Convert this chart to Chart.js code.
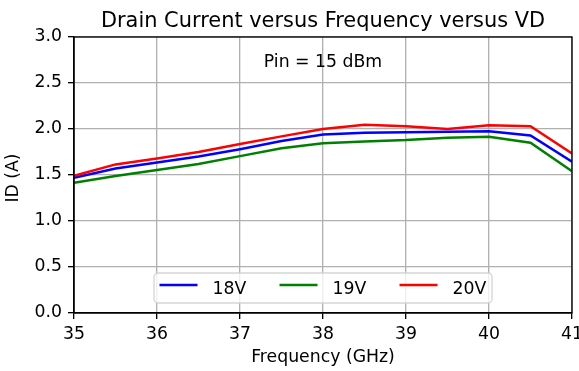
<!DOCTYPE html>
<html>
<head>
<meta charset="utf-8">
<script src="https://cdn.jsdelivr.net/npm/chart.js@4"></script>
<style>
  html, body { margin: 0; padding: 0; background: #fff; }
  #c { display: block; }
</style>
</head>
<body>
<canvas id="c" width="579" height="371"></canvas>
<script>
// ---- data ----
const frequencies = [35, 35.5, 36, 36.5, 37, 37.5, 38, 38.5, 39, 39.5, 40, 40.5, 41];
const seriesLabels = ['18V', '19V', '20V'];
const id18V = [1.47, 1.57, 1.635, 1.70, 1.78, 1.87, 1.94, 1.96, 1.965, 1.97, 1.975, 1.93, 1.645];
const id19V = [1.415, 1.49, 1.555, 1.62, 1.705, 1.79, 1.845, 1.865, 1.88, 1.905, 1.915, 1.85, 1.54];
const id20V = [1.49, 1.615, 1.68, 1.75, 1.837, 1.92, 2.0, 2.045, 2.03, 2.0, 2.04, 2.03, 1.735];
const xTicks = [35, 36, 37, 38, 39, 40, 41];
const yTicks = [0, 0.5, 1.0, 1.5, 2.0, 2.5, 3.0];
const titleText = 'Drain Current versus Frequency versus VD';
const annotationText = 'Pin = 15 dBm';
const xLabel = 'Frequency (GHz)';
const yLabel = 'ID (A)';

const colors = ['#0000ff', '#008000', '#ff0000'];
const FONT = "'DejaVu Sans', sans-serif";
const FS = 17.3;

function pts(arr) { return frequencies.map((f, i) => ({ x: f, y: arr[i] })); }

const allSeries = [id18V, id19V, id20V];
const datasets = allSeries.map((arr, i) => ({
  label: seriesLabels[i],
  data: pts(arr),
  borderColor: colors[i],
  backgroundColor: colors[i],
  borderWidth: 2.5,
  pointRadius: 0,
  tension: 0,
  fill: false,
  order: 2 - i
}));

const extras = {
  id: 'extras',
  afterDatasetsDraw(chart) {
    const { ctx, chartArea: a } = chart;
    ctx.save();
    ctx.strokeStyle = '#000';
    ctx.lineWidth = 1.33;
    ctx.strokeRect(a.left, a.top, a.right - a.left, a.bottom - a.top);
    ctx.restore();
  },
  afterDraw(chart) {
    const { ctx, chartArea: a } = chart;
    const cx = (a.left + a.right) / 2;
    ctx.save();
    // title
    ctx.fillStyle = '#000';
    ctx.font = `20.9px ${FONT}`;
    ctx.textAlign = 'center';
    ctx.textBaseline = 'alphabetic';
    ctx.fillText(titleText, cx, 27);
    // annotation
    ctx.font = `${FS}px ${FONT}`;
    ctx.fillText(annotationText, cx, 67);
    // y label
    ctx.save();
    ctx.translate(14, 178);
    ctx.rotate(-Math.PI / 2);
    ctx.textBaseline = 'middle';
    ctx.fillText(yLabel, 0, 0);
    ctx.restore();
    // legend
    const bx = 154, by = 273, bw = 338, bh = 30, r = 4;
    ctx.beginPath();
    ctx.moveTo(bx + r, by);
    ctx.arcTo(bx + bw, by, bx + bw, by + bh, r);
    ctx.arcTo(bx + bw, by + bh, bx, by + bh, r);
    ctx.arcTo(bx, by + bh, bx, by, r);
    ctx.arcTo(bx, by, bx + bw, by, r);
    ctx.closePath();
    ctx.fillStyle = 'rgba(255,255,255,0.8)';
    ctx.fill();
    ctx.strokeStyle = 'rgba(204,204,204,0.8)';
    ctx.lineWidth = 1.33;
    ctx.stroke();
    chart.data.datasets.forEach((ds, i) => {
      const x0 = 159.5 + i * 120;
      ctx.strokeStyle = ds.borderColor;
      ctx.lineWidth = 2.5;
      ctx.beginPath();
      ctx.moveTo(x0, 285);
      ctx.lineTo(x0 + 38, 285);
      ctx.stroke();
      ctx.fillStyle = '#000';
      ctx.textAlign = 'left';
      ctx.textBaseline = 'alphabetic';
      ctx.font = `${FS}px ${FONT}`;
      ctx.fillText(ds.label, x0 + 53, 293.5);
    });
    ctx.restore();
  }
};

new Chart(document.getElementById('c'), {
  type: 'line',
  data: { datasets },
  plugins: [extras],
  options: {
    responsive: false,
    devicePixelRatio: 1,
    animation: false,
    layout: { padding: { top: 37, right: 7, left: 0, bottom: 0 } },
    plugins: { legend: { display: false }, title: { display: false }, tooltip: { enabled: false } },
    scales: {
      x: {
        type: 'linear',
        min: 35, max: 41,
        afterBuildTicks(scale) { scale.ticks = xTicks.map(v => ({ value: v })); },
        afterFit(scale) { scale.height = 58; scale.paddingLeft = 0; scale.paddingRight = 0; },
        ticks: { color: '#000', font: { family: FONT, size: FS }, padding: 5, maxRotation: 0, autoSkip: false,
                 callback: v => String(v) },
        grid: { color: '#b0b0b0', lineWidth: 1.33, tickColor: '#000', tickLength: 6, tickWidth: 1.33 },
        border: { display: true, color: '#000', width: 1.33 },
        title: { display: true, text: xLabel, color: '#000', font: { family: FONT, size: FS }, padding: { top: 0, bottom: 3 } }
      },
      y: {
        type: 'linear',
        min: 0, max: 3,
        afterBuildTicks(scale) { scale.ticks = yTicks.map(v => ({ value: v })); },
        afterFit(scale) { scale.width = 74; scale.paddingTop = 0; scale.paddingBottom = 0; },
        ticks: { color: '#000', font: { family: FONT, size: FS }, padding: 6, autoSkip: false,
                 callback: v => Number(v).toFixed(1) },
        grid: { color: '#b0b0b0', lineWidth: 1.33, tickColor: '#000', tickLength: 6, tickWidth: 1.33 },
        border: { display: true, color: '#000', width: 1.33 }
      }
    }
  }
});
</script>
</body>
</html>
